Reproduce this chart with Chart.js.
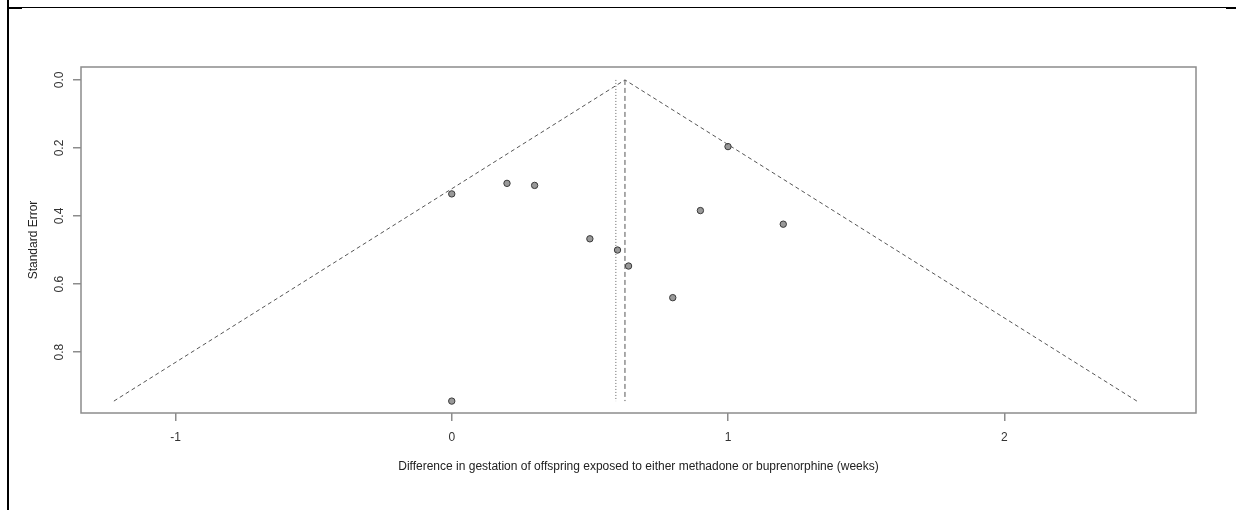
<!DOCTYPE html>
<html>
<head>
<meta charset="utf-8">
<script src="https://cdn.jsdelivr.net/npm/chart.js@4/dist/chart.umd.min.js"></script>
<style>
  html, body { margin: 0; padding: 0; background: #fff; }
  #funnel { display: block; }
</style>
</head>
<body>
<canvas id="funnel" width="1236" height="511"></canvas>
<script>
// Study estimates (weeks) and their standard errors
const studyDiff = [0, 0.2, 0.3, 0.5, 0.6, 0.64, 0.8, 0.9, 1.0, 1.2, 0];
const studySE = [0.335, 0.304, 0.31, 0.467, 0.5, 0.547, 0.64, 0.384, 0.196, 0.424, 0.944];

// Funnel outline (pseudo 95% limits)
const funnelX = [-1.223, 0.627, 2.48];
const funnelSE = [0.944, 0, 0.944];

// Summary estimate lines
const pooledX = [0.627, 0.627];
const pooledSE = [0, 0.944];
const altX = [0.594, 0.594];
const altSE = [0, 0.944];

const xTicks = [-1, 0, 1, 2];
const yTicks = [0, 0.2, 0.4, 0.6, 0.8];

const toPoints = (xs, ys) => xs.map((x, i) => ({ x: x, y: ys[i] }));

const FONT = { family: "'Liberation Sans', Arial, Helvetica, sans-serif", size: 12 };
const BOX = "#8c8c8c";

// black page frame lines + grey box round the plot area
const framePlugin = {
    id: "frame",
    beforeDraw(chart) {
        const ctx = chart.ctx;
        ctx.save();
        ctx.fillStyle = "#000";
        ctx.fillRect(7, 0, 2, 510);
        ctx.fillRect(8, 7, 1228, 1);
        ctx.fillRect(9, 7, 13, 2);
        ctx.fillRect(1226, 7, 10, 2);
        ctx.restore();
    },
    afterDraw(chart) {
        const a = chart.chartArea;
        const ctx = chart.ctx;
        ctx.save();
        ctx.strokeStyle = BOX;
        ctx.lineWidth = 1.5;
        ctx.strokeRect(a.left, a.top, a.right - a.left, a.bottom - a.top);
        ctx.restore();
    }
};

new Chart(document.getElementById("funnel"), {
    type: "scatter",
    data: {
        datasets: [
            {
                label: "Funnel",
                data: toPoints(funnelX, funnelSE),
                showLine: true,
                borderColor: "#555",
                borderWidth: 1,
                borderDash: [4, 3],
                pointRadius: 0,
                fill: false
            },
            {
                label: "Pooled",
                data: toPoints(pooledX, pooledSE),
                showLine: true,
                borderColor: "#555",
                borderWidth: 1,
                borderDash: [5, 3],
                pointRadius: 0
            },
            {
                label: "Adjusted",
                data: toPoints(altX, altSE),
                showLine: true,
                borderColor: "#666",
                borderWidth: 1,
                borderDash: [1, 2],
                pointRadius: 0
            },
            {
                label: "Studies",
                data: toPoints(studyDiff, studySE),
                pointRadius: 3.2,
                backgroundColor: "#999",
                borderColor: "#3a3a3a",
                borderWidth: 1
            }
        ]
    },
    options: {
        responsive: false,
        animation: false,
        devicePixelRatio: 1,
        layout: { padding: { top: 67, right: 40, bottom: 0, left: 0 } },
        plugins: {
            legend: { display: false },
            tooltip: { enabled: false }
        },
        scales: {
            x: {
                type: "linear",
                min: -1.342,
                max: 2.694,
                afterBuildTicks: (scale) => { scale.ticks = xTicks.map(v => ({ value: v })); },
                afterFit: (scale) => { scale.height = 98; },
                grid: { display: true, drawOnChartArea: false, drawTicks: true, tickLength: 8, color: BOX, lineWidth: 1.5 },
                border: { display: false },
                ticks: { color: "#333", font: FONT, padding: 9, maxRotation: 0 },
                title: {
                    display: true,
                    text: "Difference in gestation of offspring exposed to either methadone or buprenorphine (weeks)",
                    color: "#222",
                    font: FONT,
                    padding: { top: 0, bottom: 37 }
                }
            },
            y: {
                type: "linear",
                reverse: true,
                min: -0.038,
                max: 0.979,
                afterBuildTicks: (scale) => { scale.ticks = yTicks.map(v => ({ value: v })); },
                afterFit: (scale) => { scale.width = 81; },
                grid: { display: true, drawOnChartArea: false, drawTicks: true, tickLength: 8, color: BOX, lineWidth: 1.5 },
                border: { display: false },
                ticks: {
                    color: "#333",
                    font: FONT,
                    padding: 5,
                    minRotation: 90,
                    maxRotation: 90,
                    crossAlign: "center",
                    callback: (v) => Number(v).toFixed(1)
                },
                title: {
                    display: true,
                    text: "Standard Error",
                    color: "#222",
                    font: FONT,
                    padding: { top: 26, bottom: 0 }
                }
            }
        }
    },
    plugins: [framePlugin]
});
</script>
</body>
</html>
